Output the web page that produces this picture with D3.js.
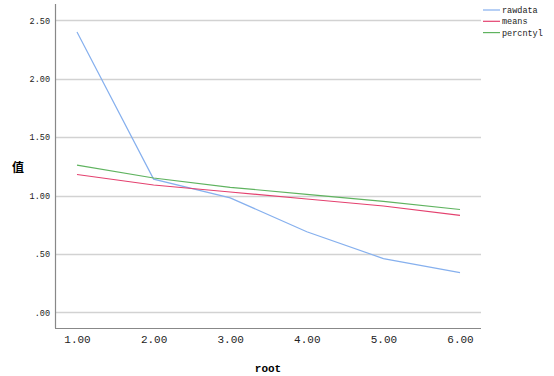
<!DOCTYPE html>
<html>
<meta charset="utf-8">
<style>
    body { margin: 0; background: #fff; }
    .tick text { font-family: 'Liberation Mono', monospace; fill: #222; }
</style>
<body>
<svg id="chart" width="554" height="376"></svg>
<script src="https://d3js.org/d3.v7.min.js"></script>
<script>
    // data
    const roots = [1, 2, 3, 4, 5, 6];
    const rawdata = [2.40, 1.14, 0.98, 0.69, 0.46, 0.34];
    const means = [1.18, 1.09, 1.03, 0.97, 0.91, 0.83];
    const percntyl = [1.26, 1.15, 1.07, 1.01, 0.95, 0.88];
    const yTicks = [0, 0.5, 1, 1.5, 2, 2.5];
    const seriesNames = ["rawdata", "means", "percntyl"];

    const series = [
        { name: seriesNames[0], values: rawdata, color: "#86b0ee" },
        { name: seriesNames[1], values: means, color: "#e4416f" },
        { name: seriesNames[2], values: percntyl, color: "#5fb35f" }
    ];

    const chart = d3.select("#chart");

    const plotLeft = 55, plotRight = 481, plotTop = 4, plotBottom = 328;

    const xScale = d3.scaleLinear().domain([1, 6]).range([77, 460]);
    const yScale = d3.scaleLinear().domain([0, 2.5]).range([312.3, 20.3]);

    // grid lines
    chart.append("g")
        .selectAll("line")
        .data(yTicks)
        .enter()
        .append("line")
        .attr("x1", plotLeft)
        .attr("x2", plotRight)
        .attr("y1", d => Math.round(yScale(d)) + 0.5)
        .attr("y2", d => Math.round(yScale(d)) + 0.5)
        .attr("stroke", "#d2d2d2")
        .attr("stroke-width", 1.3);

    // y axis
    const yAxis = chart.append("g")
        .attr("transform", "translate(" + plotLeft + ",0)")
        .call(d3.axisLeft(yScale).tickValues(yTicks).tickSize(0).tickPadding(5)
            .tickFormat(d => d3.format(".2f")(d).replace(/^0/, "")));
    yAxis.select(".domain").remove();
    yAxis.selectAll("text").style("font-size", "8.5px");
    chart.append("line")
        .attr("x1", plotLeft + 0.5).attr("x2", plotLeft + 0.5)
        .attr("y1", plotTop).attr("y2", plotBottom)
        .attr("stroke", "#888").attr("stroke-width", 1.2);

    // x axis
    const xAxis = chart.append("g")
        .attr("transform", "translate(0," + plotBottom + ")")
        .call(d3.axisBottom(xScale).tickValues(roots).tickSize(0).tickPadding(7)
            .tickFormat(d3.format(".2f")));
    xAxis.select(".domain").remove();
    xAxis.selectAll("text").style("font-size", "11px");
    chart.append("line")
        .attr("x1", plotLeft).attr("x2", plotRight)
        .attr("y1", plotBottom + 0.5).attr("y2", plotBottom + 0.5)
        .attr("stroke", "#888").attr("stroke-width", 1.2);

    // lines
    const line = d3.line()
        .x((d, i) => xScale(roots[i]))
        .y(d => yScale(d));

    chart.append("g")
        .selectAll("path")
        .data(series)
        .enter()
        .append("path")
        .attr("d", d => line(d.values))
        .attr("fill", "none")
        .attr("stroke", d => d.color)
        .attr("stroke-width", 1.2);

    // legend
    const legend = chart.append("g")
        .selectAll("g")
        .data(series)
        .enter()
        .append("g")
        .attr("transform", (d, i) => "translate(483," + (10 + i * 11.3) + ")");

    legend.append("line")
        .attr("x1", 0).attr("x2", 17)
        .attr("stroke", d => d.color)
        .attr("stroke-width", 1.2);

    legend.append("text")
        .attr("x", 19)
        .attr("y", 3)
        .style("font-family", "'Liberation Mono', monospace")
        .style("font-size", "8.5px")
        .style("fill", "#222")
        .text(d => d.name);

    // axis titles
    chart.append("text")
        .attr("x", 18)
        .attr("y", 172)
        .attr("text-anchor", "middle")
        .style("font-family", "'Noto Sans CJK SC', sans-serif")
        .style("font-weight", "bold")
        .style("font-size", "12px")
        .text("值");

    chart.append("text")
        .attr("x", 268)
        .attr("y", 372)
        .attr("text-anchor", "middle")
        .style("font-family", "'Liberation Mono', monospace")
        .style("font-weight", "bold")
        .style("font-size", "11px")
        .text("root");
</script>
</body>
</html>
